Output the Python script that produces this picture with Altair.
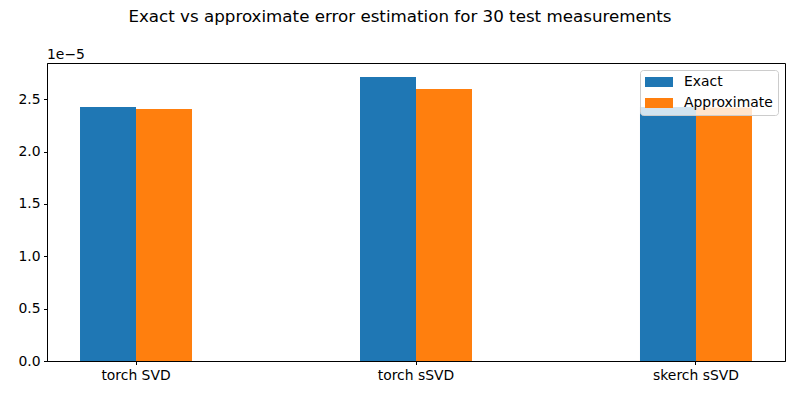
import altair as alt
import pandas as pd

methods = ["torch SVD", "torch sSVD", "skerch sSVD"]
kinds = ["Exact", "Approximate"]
exact_vals = [2.426e-5, 2.713e-5, 2.426e-5]
approx_vals = [2.407e-5, 2.598e-5, 2.42e-5]
y_ticks = [0.0, 0.5e-5, 1.0e-5, 1.5e-5, 2.0e-5, 2.5e-5]
colors = ["#1f77b4", "#ff7f0e"]
title_text = "Exact vs approximate error estimation for 30 test measurements"
offset_text = "1e\u22125"

rows = []
for m, e, a in zip(methods, exact_vals, approx_vals):
    rows.append({"method": m, "kind": "Exact", "value": e})
    rows.append({"method": m, "kind": "Approximate", "value": a})
df = pd.DataFrame(rows)

FONT = "DejaVu Sans"

bars = alt.Chart(df).mark_bar(size=56).encode(
    x=alt.X("method:N", sort=methods,
            scale=alt.Scale(paddingInner=0.6, paddingOuter=0.1179),
            axis=alt.Axis(title=None, labelAngle=0, labelFont=FONT, labelFontSize=13.9,
                          labelColor="#000000", tickColor="#000000", tickSize=3.5,
                          labelPadding=3.5, domainColor="#000000", grid=False)),
    xOffset=alt.XOffset("kind:N", sort=kinds,
                        scale=alt.Scale(paddingInner=0, paddingOuter=0)),
    y=alt.Y("value:Q", scale=alt.Scale(domain=[0, 2.846e-5], nice=False, zero=True),
            axis=alt.Axis(title=None, values=y_ticks,
                          labelExpr="format(datum.value*1e5, '.1f')",
                          labelFont=FONT, labelFontSize=13.9, labelColor="#000000",
                          tickColor="#000000", tickSize=3.5, labelPadding=3.5,
                          domainColor="#000000", grid=False)),
    color=alt.Color("kind:N", sort=kinds,
                    scale=alt.Scale(domain=kinds, range=colors),
                    legend=alt.Legend(title=None, orient="top-right", offset=7,
                                      symbolType="M-1,-0.714h4v1.428h-4z",
                                      symbolSize=196, symbolStrokeWidth=0,
                                      symbolOpacity=1,
                                      labelFont=FONT, labelFontSize=13.9,
                                      labelColor="#000000", labelOffset=25,
                                      rowPadding=7, padding=5,
                                      fillColor="rgba(255,255,255,0.8)",
                                      strokeColor="#cccccc", cornerRadius=3)),
)

offset_label = alt.Chart(pd.DataFrame({"t": [offset_text]})).mark_text(
    align="left", baseline="alphabetic", font=FONT, fontSize=13.9, color="#000000"
).encode(x=alt.value(0), y=alt.value(-4), text="t:N")

chart = alt.layer(bars, offset_label).properties(
    width=738, height=298,
    title=alt.TitleParams(title_text, font=FONT, fontSize=16.7, fontWeight="normal",
                          color="#000000", anchor="middle", dx=-16, offset=22),
    autosize=alt.AutoSizeParams(type="none"),
    padding={"left": 47, "top": 63, "right": 15, "bottom": 39},
    background="white",
).configure_view(stroke="#000000", strokeWidth=1)

chart.save("out.html", embed_options={"renderer": "svg", "actions": False})
